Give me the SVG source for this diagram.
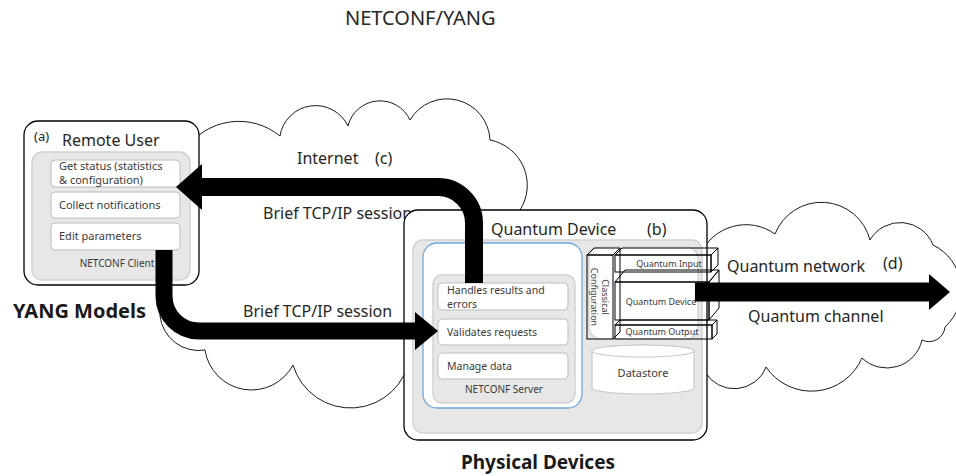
<svg xmlns="http://www.w3.org/2000/svg" width="956" height="476" viewBox="0 0 956 476">
<style>
text{font-family:"Noto Sans","Open Sans",sans-serif;fill:#262626}
.cloud{fill:#fff;stroke:#1a1a1a;stroke-width:1}
.outer{fill:#fff;stroke:#000;stroke-width:1.3}
.gray{fill:#e7e7e7;stroke:#d2d2d2;stroke-width:1.5}
.item{fill:#fff;stroke:#bdbdbd;stroke-width:1}
.sm{font-size:11px;fill:#3a3a3a}
.xs{font-size:10px;fill:#3a3a3a}
.lbl{font-size:16px}
.bold{font-size:19px;font-weight:bold;fill:#1a1a1a}
.q{font-size:9px;fill:#3a3a3a;text-anchor:middle}
.box3d{fill:none;stroke:#000;stroke-width:1}
.arrow{fill:none;stroke:#000}
</style>

<g id="title"><text x="345" y="25" style="font-size:20px">NETCONF/YANG</text></g>

<g id="internet-cloud">
<path class="cloud" d="M185 150 A65 65 0 0 1 280 136 A36 36 0 0 1 348 126 A33 33 0 0 1 410 120 A43 43 0 0 1 490 140 A46 46 0 0 1 520 210 L530 280 L410 356 A60 60 0 0 1 293 365 A47 47 0 0 1 205 350 A39 39 0 0 1 160 316 L168 240 Z"/>
<text x="297" y="164" class="lbl">Internet</text>
<text x="375" y="164" class="lbl">(c)</text>
<text x="263" y="219" class="lbl">Brief TCP/IP session</text>
<text x="243" y="317" class="lbl">Brief TCP/IP session</text>
</g>

<g id="quantum-cloud">
<path class="cloud" d="M700 255 A50 50 0 0 1 775 234 A50 50 0 0 1 870 240 A35 35 0 0 1 933 245 A50 50 0 0 1 945 327 A16 16 0 0 1 922 340 A36 36 0 0 1 862 358 A55 55 0 0 1 766 367 A34 34 0 0 1 705 372 L700 300 Z"/>
<text x="727" y="272" class="lbl">Quantum network</text>
<text x="883" y="269" class="lbl">(d)</text>
<text x="748" y="322" class="lbl">Quantum channel</text>
</g>

<g id="remote-user">
<rect class="outer" x="24" y="121" width="175" height="164" rx="14"/>
<rect class="gray" x="32" y="152" width="158" height="128" rx="10"/>
<text x="34" y="141" style="font-size:13px">(a)</text>
<text x="62" y="146" class="lbl">Remote User</text>
<rect class="item" x="51" y="160" width="129" height="27" rx="4"/>
<text x="59" y="170" class="sm">Get status (statistics</text>
<text x="59" y="184" class="sm">&amp; configuration)</text>
<rect class="item" x="51" y="192" width="129" height="26" rx="4"/>
<text x="59" y="209" class="sm">Collect notifications</text>
<rect class="item" x="51" y="223" width="129" height="27" rx="4"/>
<text x="59" y="240" class="sm">Edit parameters</text>
<text x="117" y="267" class="xs" text-anchor="middle">NETCONF Client</text>
</g>

<g id="yang-models"><text x="13" y="318" class="bold" style="font-size:20px">YANG Models</text></g>

<g id="quantum-device">
<rect class="outer" x="404" y="210" width="303" height="230" rx="14"/>
<rect class="gray" x="413" y="240" width="289" height="193" rx="10"/>
<text x="491" y="235" class="lbl">Quantum Device</text>
<text x="647" y="235" class="lbl">(b)</text>
<g id="netconf-server">
<rect x="423" y="243" width="159" height="165" rx="14" fill="#fff" stroke="#6fa8dc" stroke-width="1.3"/>
<rect class="gray" x="433" y="275" width="142" height="128" rx="9"/>
<rect class="item" x="438" y="283" width="130" height="27" rx="4"/>
<text x="447" y="294" style="font-size:10.5px;fill:#3a3a3a">Handles results and</text>
<text x="447" y="308" style="font-size:10.5px;fill:#3a3a3a">errors</text>
<rect class="item" x="438" y="319" width="130" height="26" rx="4"/>
<text x="447" y="336" style="font-size:10.5px;fill:#3a3a3a">Validates requests</text>
<rect class="item" x="438" y="353" width="130" height="26" rx="4"/>
<text x="447" y="370" style="font-size:10.5px;fill:#3a3a3a">Manage data</text>
<text x="504" y="393" class="xs" text-anchor="middle">NETCONF Server</text>
</g>
<g id="quantum-hardware">
<rect x="589" y="247" width="109" height="92" rx="12" fill="#fff" stroke="#cfcfcf" stroke-width="1.2"/>
<rect class="box3d" x="587" y="255" width="26" height="84"/>
<polygon class="box3d" points="587,255 594,248 620,248 613,255"/>
<polyline class="box3d" points="620,248 620,332 613,339"/>
<g transform="translate(600,297) rotate(90)">
<text x="0" y="-2" class="q">Classical</text>
<text x="0" y="9" class="q">Configuration</text>
</g>
<rect class="box3d" x="615" y="255" width="96" height="17"/>
<polygon class="box3d" points="615,255 622,248 718,248 711,255"/>
<polygon class="box3d" points="711,255 718,248 718,265 711,272"/>
<text x="669" y="267" class="q">Quantum Input</text>
<rect class="box3d" x="615" y="282" width="94" height="38"/>
<polygon class="box3d" points="615,282 625,270 719,270 709,282"/>
<polygon class="box3d" points="709,282 719,270 719,308 709,320"/>
<text x="661" y="305" class="q">Quantum Device</text>
<rect class="box3d" x="615" y="325" width="97" height="14"/>
<polygon class="box3d" points="615,325 620,320 717,320 712,325"/>
<polygon class="box3d" points="712,325 717,320 717,334 712,339"/>
<text x="662" y="335" class="q">Quantum Output</text>
</g>
<g id="datastore">
<path d="M592 351 A51 6 0 0 1 694 351 V388 A51 6 0 0 1 592 388 Z" fill="#fff" stroke="#c8c8c8" stroke-width="1.2"/>
<ellipse cx="643" cy="351" rx="51" ry="6" fill="#fff" stroke="#c8c8c8" stroke-width="1.2"/>
<text x="643" y="377" text-anchor="middle" style="font-size:11px;fill:#3a3a3a">Datastore</text>
</g>
</g>

<g id="physical-devices"><text x="538" y="469" class="bold" text-anchor="middle">Physical Devices</text></g>

<g id="connectors">
<path class="arrow" d="M474 283 V223 A36 36 0 0 0 438 187 H200" stroke-width="18"/>
<polygon points="202,164 176,187 202,210" fill="#000"/>
<path class="arrow" d="M164 250 V296 A35 35 0 0 0 199 331 H417" stroke-width="17"/>
<polygon points="415,312 438,331 415,350" fill="#000"/>
<path class="arrow" d="M695 292 H931" stroke-width="19"/>
<polygon points="929,274 950,292 929,310" fill="#000"/>
</g>
</svg>
